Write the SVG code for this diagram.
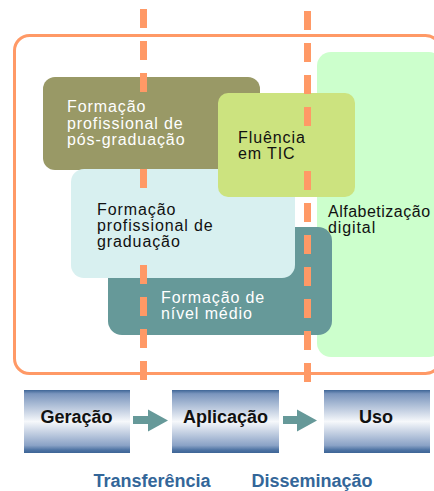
<svg xmlns="http://www.w3.org/2000/svg" width="434" height="491" viewBox="0 0 434 491">
  <defs>
    <linearGradient id="boxGrad" x1="0" y1="0" x2="0" y2="1">
      <stop offset="0" stop-color="#3E6596"/>
      <stop offset="0.06" stop-color="#7A95BD"/>
      <stop offset="0.5" stop-color="#F6F8FB"/>
      <stop offset="0.88" stop-color="#8AA2C6"/>
      <stop offset="0.95" stop-color="#4F74A4"/>
      <stop offset="1" stop-color="#3E6596"/>
    </linearGradient>
    <style>
      .lbl { font-family: "Liberation Sans", Arial, sans-serif; font-size: 16px; letter-spacing: 0.9px; }
      .wht { fill: #FFFFFF; }
      .blk { fill: #111111; }
      .stage { font-family: "Liberation Sans", Arial, sans-serif; font-size: 18px; font-weight: bold; fill: #111111; text-anchor: middle; }
      .flow { font-family: "Liberation Sans", Arial, sans-serif; font-size: 18px; font-weight: bold; fill: #336699; text-anchor: middle; }
      .dash { stroke: #FF9966; stroke-width: 7; stroke-dasharray: 19 13; fill: none; }
      .arrow { fill: #669999; }
    </style>
  </defs>
  <rect width="434" height="491" fill="#FFFFFF"/>

  <!-- outer frame -->
  <rect id="frame" x="14.5" y="35.5" width="426" height="338" rx="15" fill="none" stroke="#FF9966" stroke-width="3"/>

  <g id="alfabetizacao">
    <rect x="317" y="52" width="126" height="305" rx="14" fill="#CCFFCC"/>
  </g>
  <g id="pos-graduacao">
    <rect x="43" y="77" width="217" height="93" rx="12" fill="#999966"/>
  </g>
  <g id="nivel-medio">
    <rect x="108" y="227" width="224" height="108" rx="14" fill="#669999"/>
  </g>
  <g id="graduacao">
    <rect x="71" y="169" width="224" height="109" rx="13" fill="#D8F0F0"/>
  </g>
  <g id="fluencia">
    <rect x="218" y="93" width="137" height="104" rx="10" fill="#CCE37F"/>
  </g>

  <!-- dashed phase separators and flow arrows -->
  <g id="connectors">
    <line class="dash" x1="143.5" y1="9" x2="143.5" y2="384"/>
    <line class="dash" x1="307.5" y1="11" x2="307.5" y2="384"/>
    <polygon class="arrow" points="133,416 148,416 148,409.5 168,420.5 148,431.5 148,424 133,424"/>
    <polygon class="arrow" points="283,416 297,416 297,409.5 317,420.5 297,431.5 297,424 283,424"/>
  </g>

  <!-- text (with label backgrounds) -->
  <g id="pos-graduacao-text">
    <rect x="64" y="95" width="128" height="66" fill="#999966"/>
    <text class="lbl wht" x="67" y="112">Formação</text>
    <text class="lbl wht" x="67" y="128.5">profissional de</text>
    <text class="lbl wht" x="67" y="145">pós-graduação</text>
  </g>
  <g id="fluencia-text">
    <rect x="236" y="127" width="76" height="38" fill="#CCE37F"/>
    <text class="lbl blk" x="238" y="142.5">Fluência</text>
    <text class="lbl blk" x="238" y="158.5">em TIC</text>
  </g>
  <g id="graduacao-text">
    <rect x="95" y="196" width="122" height="62" fill="#D8F0F0"/>
    <text class="lbl blk" x="97" y="215">Formação</text>
    <text class="lbl blk" x="97" y="231">profissional de</text>
    <text class="lbl blk" x="97" y="247">graduação</text>
  </g>
  <g id="nivel-medio-text">
    <text class="lbl wht" x="161" y="302.5">Formação de</text>
    <text class="lbl wht" x="161" y="318.5">nível médio</text>
  </g>
  <g id="alfabetizacao-text">
    <text class="lbl blk" x="328" y="216.5" style="letter-spacing:0.5px">Alfabetização</text>
    <text class="lbl blk" x="328" y="232.5">digital</text>
  </g>

  <!-- stage boxes -->
  <g id="geracao">
    <rect x="24" y="390" width="106" height="63" fill="url(#boxGrad)"/>
    <text class="stage" x="76.5" y="423">Geração</text>
  </g>
  <g id="aplicacao">
    <rect x="172" y="390" width="107" height="63" fill="url(#boxGrad)"/>
    <text class="stage" x="225.5" y="423">Aplicação</text>
  </g>
  <g id="uso">
    <rect x="324" y="390" width="106" height="63" fill="url(#boxGrad)"/>
    <text class="stage" x="376" y="423">Uso</text>
  </g>

  <g id="flow-labels">
    <text class="flow" x="152" y="487">Transferência</text>
    <text class="flow" x="312" y="487">Disseminação</text>
  </g>
</svg>
